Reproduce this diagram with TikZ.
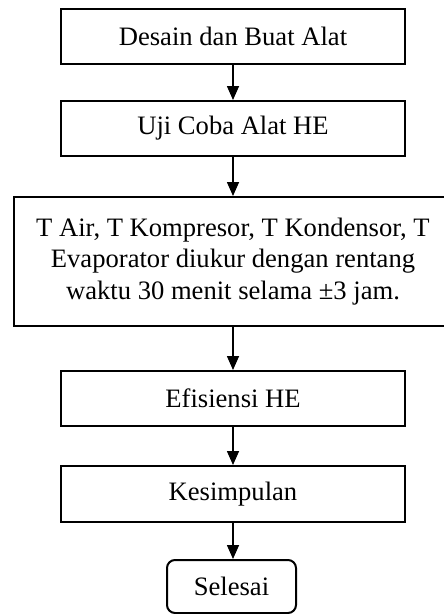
\documentclass[tikz,border=0pt]{standalone}
\usepackage{fontspec}
\setmainfont{Liberation Serif}
\usetikzlibrary{arrows.meta}
\begin{document}
\begin{tikzpicture}[x=1pt,y=-1pt,
  box/.style={draw,line width=2pt,minimum width=344pt,minimum height=55pt,inner sep=0pt,align=center,
    font=\fontsize{26.6}{31.5}\selectfont},
  conn/.style={line width=1.6pt,-{Triangle[width=12pt,length=14pt]}}]
\useasboundingbox (0,0) rectangle (444,614);
\node[box] (a) at (233,36) {Desain dan Buat Alat};
\node[box] (b) at (233,128.5) {Uji Coba Alat HE};
\node[box,minimum width=438pt,minimum height=129pt] (c) at (233,261.5)
  {T Air, T Kompresor, T Kondensor, T\\Evaporator diukur dengan rentang\\waktu 30 menit selama ±3 jam.};
\node[box] (d) at (233,398.5) {Efisiensi HE};
\node[box,minimum height=56pt] (e) at (233,494) {Kesimpulan};
\node[box,rounded corners=8pt,minimum width=129pt,minimum height=53pt] (f) at (231.5,586.5) {Selesai};
\draw[conn] (a.south) -- (b.north);
\draw[conn] (b.south) -- (b.south |- c.north);
\draw[conn] (c.south) -- (d.north);
\draw[conn] (d.south) -- (e.north);
\draw[conn] (e.south) -- (e.south |- f.north);
\end{tikzpicture}
\end{document}
